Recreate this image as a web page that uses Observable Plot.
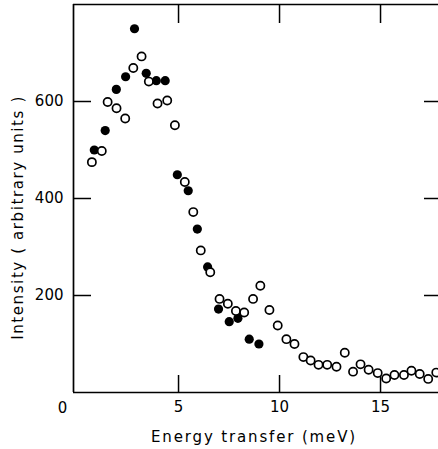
<!DOCTYPE html>
<html><head><meta charset="utf-8">
<script src="https://cdn.jsdelivr.net/npm/d3@7"></script>
<script src="https://cdn.jsdelivr.net/npm/@observablehq/plot@0.6"></script>
<style>
html,body{margin:0;padding:0;background:#fff;overflow:hidden}
</style>
</head><body><div id="chart"></div>
<script>
// Filled circles
const filledEnergy = [0.83, 1.37, 1.92, 2.38, 2.82, 3.40, 3.90, 4.34, 4.94, 5.48, 5.93, 6.44, 6.98, 7.51, 7.94, 8.50, 8.98];
const filledIntensity = [500, 540, 625, 651, 750, 658, 643, 643, 449, 416, 337, 259, 172, 146, 153, 110, 100];
// Open circles
const openEnergy = [0.71, 1.20, 1.49, 1.93, 2.36, 2.76, 3.17, 3.53, 3.96, 4.44, 4.82, 5.31, 5.73, 6.10, 6.57, 7.03, 7.44, 7.84, 8.25, 8.69, 9.05, 9.50, 9.91, 10.34, 10.74, 11.18, 11.54, 11.93, 12.36, 12.82, 13.23, 13.64, 14.01, 14.41, 14.86, 15.28, 15.69, 16.16, 16.53, 16.94, 17.36, 17.76];
const openIntensity = [475, 498, 599, 586, 565, 669, 693, 641, 596, 602, 551, 434, 372, 293, 248, 193, 183, 168, 165, 193, 220, 170, 138, 110, 100, 73, 66, 57, 57, 53, 82, 43, 58, 47, 40, 29, 36, 36, 45, 38, 28, 41];

const xTicks = [5, 10, 15];
const yTicks = [200, 400, 600];
const cornerLabel = "0";
const xLabel = "Energy transfer (meV)";
const yLabel = "Intensity ( arbitrary units )";
const xDomain = [-0.2, 17.87];
const yDomain = [0, 800];

const filled = filledEnergy.map((e, i) => ({e, v: filledIntensity[i]}));
const open = openEnergy.map((e, i) => ({e, v: openIntensity[i]}));
const blank = () => "";

const chart = Plot.plot({
  width: 438,
  height: 449,
  marginLeft: 73,
  marginRight: 0,
  marginTop: 4,
  marginBottom: 57,
  x: {domain: xDomain},
  y: {domain: yDomain},
  style: {fontFamily: "DejaVu Sans", fontSize: "15px", color: "#000", background: "#fff"},
  marks: [
    Plot.ruleY([yDomain[0]], {stroke: "#000", strokeWidth: 1.7}),
    Plot.ruleY([yDomain[1]], {stroke: "#000", strokeWidth: 1.5}),
    Plot.ruleX([xDomain[0]], {stroke: "#000", strokeWidth: 1.7}),
    Plot.axisX(xTicks, {anchor: "bottom", tickSize: -17, tickFormat: blank, strokeWidth: 1.5, label: null}),
    Plot.axisX(xTicks, {anchor: "top", tickSize: -18, tickFormat: blank, strokeWidth: 1.5, label: null}),
    Plot.axisX(xTicks, {anchor: "bottom", tickSize: 0, tickPadding: 9, label: null, fontSize: 15}),
    Plot.axisY(yTicks, {anchor: "left", tickSize: -18, tickFormat: blank, strokeWidth: 1.5, label: null}),
    Plot.axisY(yTicks, {anchor: "right", tickSize: -15, tickFormat: blank, strokeWidth: 1.5, label: null}),
    Plot.axisY(yTicks, {anchor: "left", tickSize: 0, tickPadding: 10, label: null, fontSize: 15}),
    Plot.text([cornerLabel], {frameAnchor: "bottom-left", text: d => d, textAnchor: "middle", lineAnchor: "middle", dx: -11, dy: 16, fontSize: 15, fill: "#000"}),
    Plot.text([xLabel], {frameAnchor: "bottom", text: d => d, textAnchor: "middle", lineAnchor: "middle", dx: -2, dy: 45, fontSize: 15, fill: "#000"}),
    Plot.text([yLabel], {frameAnchor: "left", text: d => d, textAnchor: "middle", lineAnchor: "middle", rotate: -90, dx: -55, dy: 19, fontSize: 15, fill: "#000"}),
    Plot.dot(filled, {x: "e", y: "v", r: 4.6, fill: "#000", stroke: "none"}),
    Plot.dot(open, {x: "e", y: "v", r: 4.1, fill: "#fff", stroke: "#000", strokeWidth: 1.7})
  ]
});

d3.select(chart).selectAll("text")
  .filter(function() { return this.textContent === xLabel; })
  .style("letter-spacing", "1.85px");
d3.select(chart).selectAll("text")
  .filter(function() { return this.textContent === yLabel; })
  .style("letter-spacing", "1.6px");

document.getElementById("chart").appendChild(chart);
</script>
</body></html>
